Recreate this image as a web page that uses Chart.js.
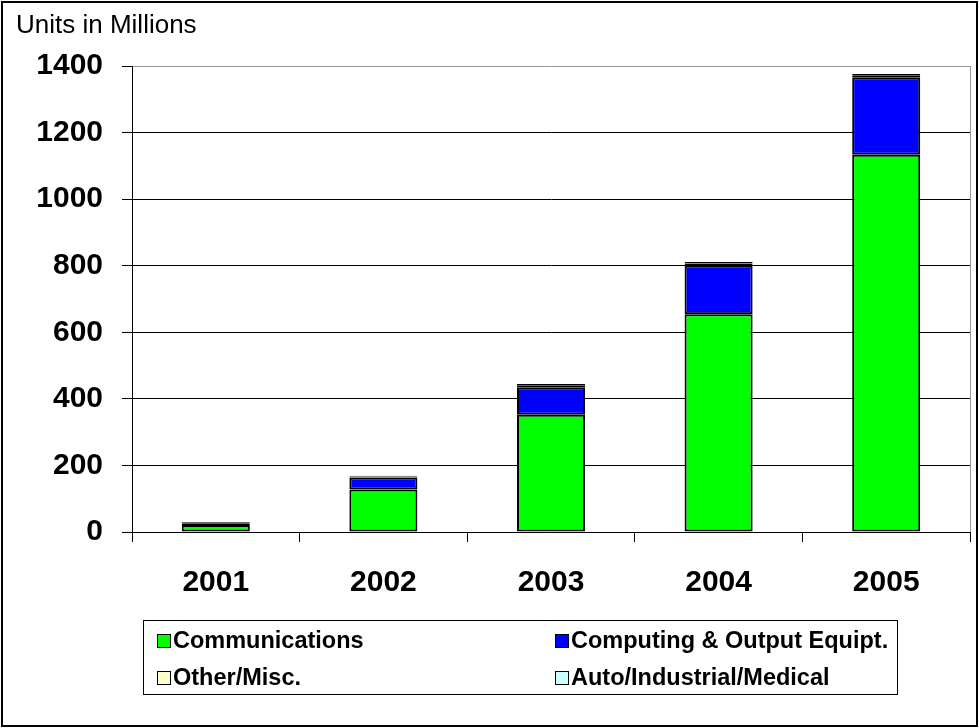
<!DOCTYPE html>
<html>
<head>
<meta charset="utf-8">
<title>Units in Millions</title>
<script src="https://cdn.jsdelivr.net/npm/chart.js@4.4.1/dist/chart.umd.min.js"></script>
<style>
  html, body { margin: 0; padding: 0; background: #fff; }
  canvas { display: block; }
</style>
</head>
<body>
<canvas id="unitsChart" width="979" height="728"></canvas>
<script>
const years = ['2001', '2002', '2003', '2004', '2005'];
const communications = [21, 128, 352, 654, 1133];
const computing = [5, 36, 83, 147, 233];
const otherMisc = [3, 3, 6, 6, 6];
const autoIndustrial = [1, 2, 4, 4, 4];
const yTicks = [0, 200, 400, 600, 800, 1000, 1200, 1400];

const FONT = "'Liberation Sans', Arial, sans-serif";

// title, plot frame, outer border and the boxed two-column legend
const framePlugin = {
    id: 'frame',
    afterDraw(chart) {
        const c = chart.ctx;
        const a = chart.chartArea;
        c.save();

        c.strokeStyle = '#999';
        c.lineWidth = 1;
        c.beginPath();
        c.moveTo(a.right + 0.5, a.top);
        c.lineTo(a.right + 0.5, a.bottom);
        c.stroke();

        c.strokeStyle = '#000';
        c.lineWidth = 2;
        c.strokeRect(2, 2, chart.width - 4, chart.height - 4);

        c.fillStyle = '#000';
        c.font = '26px ' + FONT;
        c.textAlign = 'left';
        c.textBaseline = 'alphabetic';
        c.fillText('Units in Millions', 16, 33);

        c.lineWidth = 1;
        c.strokeStyle = '#000';
        c.strokeRect(143.5, 620.5, 754, 74);

        const cols = [157, 555];
        const rows = [641, 678];
        c.font = 'bold 23.5px ' + FONT;
        c.textBaseline = 'middle';
        chart.data.datasets.forEach((ds, i) => {
            const x = cols[i % 2];
            const y = rows[Math.floor(i / 2)];
            c.fillStyle = ds.backgroundColor;
            c.fillRect(x, y - 7, 13, 13);
            c.strokeStyle = '#000';
            c.strokeRect(x + 0.5, y - 6.5, 13, 13);
            c.fillStyle = '#000';
            c.fillText(ds.label, x + 16, y + 1);
        });

        c.restore();
    }
};

const barStyle = {
    borderColor: '#000',
    borderWidth: 2,
    borderSkipped: false,
    categoryPercentage: 1,
    barPercentage: 0.406
};

new Chart(document.getElementById('unitsChart').getContext('2d'), {
    type: 'bar',
    data: {
        labels: years,
        datasets: [
            { label: 'Communications', data: communications, backgroundColor: '#00FF00', ...barStyle },
            { label: 'Computing & Output Equipt.', data: computing, backgroundColor: '#0000FF', ...barStyle },
            { label: 'Other/Misc.', data: otherMisc, backgroundColor: '#FFFFCC', ...barStyle },
            { label: 'Auto/Industrial/Medical', data: autoIndustrial, backgroundColor: '#CCFFFF', ...barStyle }
        ]
    },
    options: {
        responsive: false,
        animation: false,
        devicePixelRatio: 1,
        layout: { padding: { left: 0, top: 66, right: 9, bottom: 0 } },
        plugins: {
            legend: { display: false },
            tooltip: { enabled: false }
        },
        scales: {
            x: {
                stacked: true,
                afterFit(scale) { scale.height = 196; },
                grid: {
                    drawOnChartArea: false,
                    tickLength: 10,
                    color: '#000'
                },
                border: { color: '#000', width: 1 },
                ticks: {
                    color: '#000',
                    padding: 23,
                    font: { family: FONT, size: 30, weight: 'bold' }
                }
            },
            y: {
                stacked: true,
                min: 0,
                max: 1400,
                afterFit(scale) { scale.width = 132; },
                afterBuildTicks(scale) { scale.ticks = yTicks.map(v => ({ value: v })); },
                grid: {
                    tickLength: 10,
                    color: ctx => (ctx.tick && ctx.tick.value === 1400 ? '#999' : '#000'),
                    tickColor: '#000'
                },
                border: { color: '#000', width: 1 },
                ticks: {
                    color: '#000',
                    padding: 19,
                    callback: v => String(v),
                    font: { family: FONT, size: 30, weight: 'bold' }
                }
            }
        }
    },
    plugins: [framePlugin]
});
</script>
</body>
</html>
